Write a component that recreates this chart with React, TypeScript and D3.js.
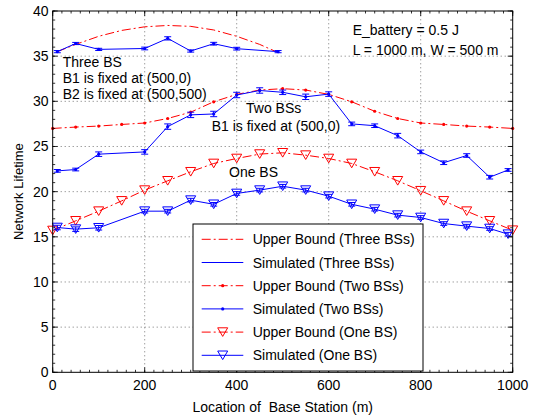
import React from "react";
import * as d3 from "d3";

// ---------- data ----------
const X_TICKS = [0, 200, 400, 600, 800, 1000];
const Y_TICKS = [0, 5, 10, 15, 20, 25, 30, 35, 40];

const ub3X = [10, 50, 100, 150, 200, 250, 300, 350, 400, 450, 490];
const ub3Y = [35.5, 36.3, 37.2, 37.85, 38.25, 38.4, 38.3, 37.9, 37.2, 36.3, 35.4];

const sim3X = [10, 50, 100, 200, 250, 300, 350, 400, 490];
const sim3Y = [35.5, 36.4, 35.75, 35.85, 36.97, 35.57, 36.38, 35.83, 35.5];
const sim3Err = [0.12, 0.12, 0.12, 0.15, 0.18, 0.12, 0.15, 0.15, 0.12];

const ubX = [0, 50, 100, 150, 200, 250, 300, 350, 400, 450, 500, 550, 600, 650, 700, 750, 800, 850, 900, 950, 1000];
const ub2Y = [27.0, 27.15, 27.26, 27.44, 27.6, 28.1, 28.8, 29.95, 30.77, 31.25, 31.4, 31.25, 30.77, 29.95, 28.9, 28.1, 27.6, 27.44, 27.26, 27.15, 27.0];
const ub1Y = [15.7, 16.77, 17.84, 18.98, 20.17, 21.2, 22.2, 23.12, 23.67, 24.16, 24.3, 24.04, 23.67, 23.12, 22.2, 21.2, 20.1, 18.98, 17.84, 16.77, 15.73];

const simX = [10, 50, 100, 200, 250, 300, 350, 400, 450, 500, 550, 600, 650, 700, 750, 800, 850, 900, 950, 990];
const sim2Y = [22.3, 22.45, 24.15, 24.4, 27.2, 28.5, 28.6, 30.7, 31.2, 31.0, 30.5, 30.8, 27.5, 27.3, 26.2, 24.4, 23.2, 24.0, 21.6, 22.4];
const sim2Err = [0.15, 0.15, 0.25, 0.25, 0.3, 0.3, 0.3, 0.3, 0.3, 0.25, 0.3, 0.25, 0.2, 0.2, 0.25, 0.2, 0.2, 0.2, 0.2, 0.15];
const sim1Y = [16.03, 15.85, 16.0, 17.84, 17.84, 19.06, 18.6, 19.8, 20.17, 20.6, 20.17, 19.5, 18.6, 18.06, 17.4, 17.14, 16.47, 16.18, 15.92, 15.29];
const sim1Err = [0.25, 0.25, 0.25, 0.2, 0.2, 0.2, 0.2, 0.2, 0.2, 0.2, 0.2, 0.2, 0.2, 0.2, 0.2, 0.2, 0.2, 0.2, 0.2, 0.2];

const LEGEND = [
  "Upper Bound (Three BSs)",
  "Simulated (Three BSs)",
  "Upper Bound (Two BSs)",
  "Simulated (Two BSs)",
  "Upper Bound (One BS)",
  "Simulated (One BS)",
];

// ---------- layout ----------
const W = 536, H = 418;
const X0 = 52.7, X1 = 512.7, Y0 = 372.3, Y1 = 11;
const RED = "#ff0000", BLUE = "#0000ff";
const DASHDOT = "9,3,2,3";
const FONT = "'Liberation Sans', Arial, Helvetica, sans-serif";

const x = d3.scaleLinear().domain([0, 1000]).range([X0, X1]);
const y = d3.scaleLinear().domain([0, 40]).range([Y0, Y1]);

const lineGen = d3.line<[number, number]>().x(d => x(d[0])).y(d => y(d[1]));
const pts = (xs: number[], ys: number[]) => xs.map((v, i) => [v, ys[i]] as [number, number]);

const tri = (cx: number, cy: number, color: string, key?: any) => (
  <path key={key} d={`M${cx - 5},${cy - 4.3}L${cx + 5},${cy - 4.3}L${cx},${cy + 4.3}Z`} fill="none" stroke={color} strokeWidth={1} />
);
const dot = (cx: number, cy: number, color: string, key?: any) => (
  <circle key={key} cx={cx} cy={cy} r={1.6} fill={color} />
);

const errBars = (xs: number[], ys: number[], es: number[], color: string) =>
  xs.map((v, i) => {
    const cx = x(v), top = y(ys[i] + es[i]), bot = y(ys[i] - es[i]);
    return (
      <g key={"e" + i} stroke={color} strokeWidth={1}>
        <line x1={cx} x2={cx} y1={top} y2={bot} />
        <line x1={cx - 3.5} x2={cx + 3.5} y1={top} y2={top} />
        <line x1={cx - 3.5} x2={cx + 3.5} y1={bot} y2={bot} />
      </g>
    );
  });

export default function App() {
  const xMinor = d3.range(0, 1001, 20);
  const yMinor = d3.range(0, 41, 1);

  const legX = 193, legY = 224, legW = 230, legH = 147;
  const rowY = (i: number) => 239.3 + i * 23.2;

  return (
    <svg width={W} height={H} style={{ position: "absolute", left: 0, top: 0, background: "#fff" }} fontFamily={FONT}>
      <rect x={0} y={0} width={W} height={H} fill="#fff" />
      {/* grid */}
      <g stroke="#777" strokeWidth={1} strokeDasharray="1,3">
        {X_TICKS.slice(1, -1).map(t => (
          <line key={"gx" + t} x1={x(t)} x2={x(t)} y1={Y0} y2={Y1} />
        ))}
        {Y_TICKS.slice(1, -1).map(t => (
          <line key={"gy" + t} x1={X0} x2={X1} y1={y(t)} y2={y(t)} />
        ))}
      </g>

      {/* Three BSs */}
      <path d={lineGen(pts(ub3X, ub3Y)) || ""} fill="none" stroke={RED} strokeWidth={1} strokeDasharray={DASHDOT} />
      <path d={lineGen(pts(sim3X, sim3Y)) || ""} fill="none" stroke={BLUE} strokeWidth={1} />
      {errBars(sim3X, sim3Y, sim3Err, BLUE)}
      {sim3X.map((v, i) => dot(x(v), y(sim3Y[i]), BLUE, "s3" + i))}

      {/* Two BSs */}
      <path d={lineGen(pts(ubX, ub2Y)) || ""} fill="none" stroke={RED} strokeWidth={1} strokeDasharray={DASHDOT} />
      {ubX.map((v, i) => dot(x(v), y(ub2Y[i]), RED, "u2" + i))}
      <path d={lineGen(pts(simX, sim2Y)) || ""} fill="none" stroke={BLUE} strokeWidth={1} />
      {errBars(simX, sim2Y, sim2Err, BLUE)}
      {simX.map((v, i) => dot(x(v), y(sim2Y[i]), BLUE, "s2" + i))}

      {/* One BS */}
      <path d={lineGen(pts(ubX, ub1Y)) || ""} fill="none" stroke={RED} strokeWidth={1} strokeDasharray={DASHDOT} />
      {ubX.map((v, i) => tri(x(v), y(ub1Y[i]), RED, "u1" + i))}
      <path d={lineGen(pts(simX, sim1Y)) || ""} fill="none" stroke={BLUE} strokeWidth={1} />
      {errBars(simX, sim1Y, sim1Err, BLUE)}
      {simX.map((v, i) => tri(x(v), y(sim1Y[i]), BLUE, "s1" + i))}

      {/* annotations */}
      <g fontSize={14} fill="#000">
        <text x={62.7} y={67}>Three BS</text>
        <text x={62.7} y={83}>B1 is fixed at (500,0)</text>
        <text x={62.7} y={98.5}>B2 is fixed at (500,500)</text>
        <text x={352.7} y={35}>E_battery = 0.5 J</text>
        <text x={352.7} y={55}>L = 1000 m, W = 500 m</text>
        <text x={246} y={113}>Two BSs</text>
        <text x={211.7} y={130.7}>B1 is fixed at (500,0)</text>
        <text x={229} y={176.7}>One BS</text>
      </g>

      {/* axes box + ticks */}
      <rect x={X0} y={Y1} width={X1 - X0} height={Y0 - Y1} fill="none" stroke="#000" strokeWidth={1} />
      <g stroke="#000" strokeWidth={0.8}>
        {xMinor.map(t => (
          <g key={"xm" + t}>
            <line x1={x(t)} x2={x(t)} y1={Y0} y2={Y0 - 2.5} />
            <line x1={x(t)} x2={x(t)} y1={Y1} y2={Y1 + 2.5} />
          </g>
        ))}
        {yMinor.map(t => (
          <g key={"ym" + t}>
            <line x1={X0} x2={X0 + 2.5} y1={y(t)} y2={y(t)} />
            <line x1={X1} x2={X1 - 2.5} y1={y(t)} y2={y(t)} />
          </g>
        ))}
        {X_TICKS.map(t => (
          <g key={"xM" + t}>
            <line x1={x(t)} x2={x(t)} y1={Y0} y2={Y0 - 5} />
            <line x1={x(t)} x2={x(t)} y1={Y1} y2={Y1 + 5} />
          </g>
        ))}
        {Y_TICKS.map(t => (
          <g key={"yM" + t}>
            <line x1={X0} x2={X0 + 5} y1={y(t)} y2={y(t)} />
            <line x1={X1} x2={X1 - 5} y1={y(t)} y2={y(t)} />
          </g>
        ))}
      </g>

      {/* legend */}
      <rect x={legX} y={legY} width={legW} height={legH} fill="#fff" stroke="#000" strokeWidth={1} />
      {LEGEND.map((label, i) => {
        const ry = rowY(i);
        const isUB = i % 2 === 0;
        const color = isUB ? RED : BLUE;
        const lx1 = 201.7, lx2 = 243.3, mx = 222.7;
        return (
          <g key={"lg" + i}>
            <line x1={lx1} x2={lx2} y1={ry} y2={ry} stroke={color} strokeWidth={1} strokeDasharray={isUB ? DASHDOT : undefined} />
            {i === 2 || i === 3 ? dot(mx, ry, color) : null}
            {i >= 4 ? tri(mx, ry, color) : null}
            <text x={252.7} y={ry + 5} fontSize={14}>{label}</text>
          </g>
        );
      })}

      {/* tick labels */}
      <g fontSize={14} fill="#000">
        {X_TICKS.map(t => (
          <text key={"xl" + t} x={x(t)} y={390} textAnchor="middle">{t}</text>
        ))}
        {Y_TICKS.map(t => (
          <text key={"yl" + t} x={48.5} y={y(t) + 5} textAnchor="end">{t}</text>
        ))}
      </g>

      {/* axis labels */}
      <text x={(X0 + X1) / 2} y={412} textAnchor="middle" fontSize={14} style={{ whiteSpace: "pre" }}>
        {"Location of  Base Station (m)"}
      </text>
      <text transform={`translate(23,${(Y0 + Y1) / 2}) rotate(-90)`} textAnchor="middle" fontSize={13}>
        Network Lifetime
      </text>
    </svg>
  );
}
